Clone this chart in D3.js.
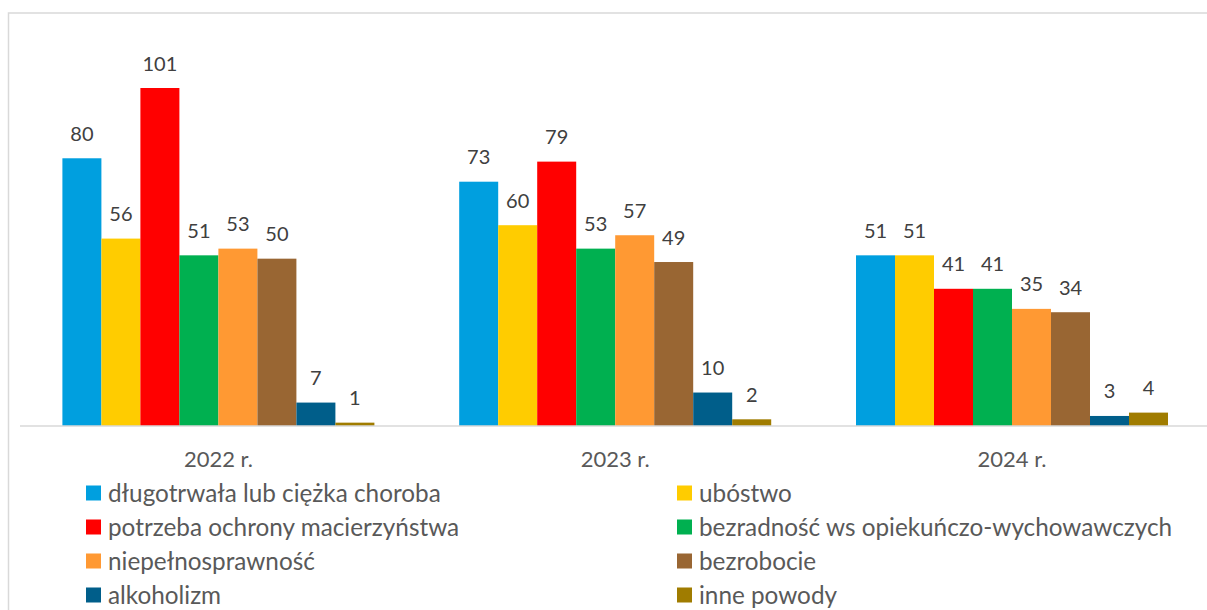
<!DOCTYPE html>
<html><head><meta charset="utf-8">
<script src="https://cdn.jsdelivr.net/npm/d3@7"></script>
<style>body{margin:0;background:#fff}svg{display:block}</style>
</head><body>
<svg id="c" width="1207" height="610"></svg>
<script>
const categories = ["2022 r.", "2023 r.", "2024 r."];
const seriesNames = [
  "długotrwała lub ciężka choroba",
  "ubóstwo",
  "potrzeba ochrony macierzyństwa",
  "bezradność ws opiekuńczo-wychowawczych",
  "niepełnosprawność",
  "bezrobocie",
  "alkoholizm",
  "inne powody"
];
const seriesColors = ["#009FDF", "#FFCC00", "#FF0000", "#00B050", "#FF9933", "#996633", "#005E8A", "#A07C00"];
const values2022 = [80, 56, 101, 51, 53, 50, 7, 1];
const values2023 = [73, 60, 79, 53, 57, 49, 10, 2];
const values2024 = [51, 51, 41, 41, 35, 34, 3, 4];
const valuesByCategory = [values2022, values2023, values2024];

const svg = d3.select("#c");
const font = "Lato, 'Open Sans', sans-serif";

// chart border
svg.append("rect").attr("x", 8.5).attr("y", 13).attr("width", 1210).attr("height", 620)
  .attr("fill", "none").attr("stroke", "#D9D9D9").attr("stroke-width", 1.5);

const baseline = 426;
const x0 = d3.scaleBand().domain(categories).range([20, 1210.4])
  .paddingInner(0.2137).paddingOuter(0.10685);
const x1 = d3.scaleBand().domain(d3.range(seriesNames.length)).range([0, x0.bandwidth()]).padding(0);
const y = d3.scaleLinear().domain([0, 101]).range([baseline, 88]);

const groups = svg.append("g").selectAll("g").data(categories).join("g")
  .attr("transform", d => `translate(${x0(d)},0)`);

groups.selectAll("rect").data((d, i) => valuesByCategory[i].map((v, j) => ({v, j})))
  .join("rect")
  .attr("x", d => x1(d.j)).attr("width", x1.bandwidth())
  .attr("y", d => y(d.v)).attr("height", d => baseline - y(d.v))
  .attr("fill", d => seriesColors[d.j]);

groups.selectAll("text").data((d, i) => valuesByCategory[i].map((v, j) => ({v, j})))
  .join("text")
  .attr("x", d => x1(d.j) + x1.bandwidth() / 2)
  .attr("y", d => y(d.v) - 17.5)
  .attr("text-anchor", "middle")
  .attr("font-family", font).attr("font-size", 20).attr("fill", "#404040")
  .text(d => d.v);

// category axis
const xAxis = svg.append("g").attr("transform", `translate(0,${baseline})`)
  .call(d3.axisBottom(x0).tickSize(0).tickPadding(25));
xAxis.select(".domain").attr("stroke", "#D9D9D9").attr("stroke-width", 1.5)
  .attr("d", "M20,0H1210");
xAxis.selectAll("text").attr("font-family", font).attr("font-size", 22).attr("fill", "#595959");

// legend
const legendCols = [86, 677];
const legend = svg.append("g").selectAll("g").data(seriesNames).join("g")
  .attr("transform", (d, i) => `translate(${legendCols[i % 2]},${493 + Math.floor(i / 2) * 34})`);
legend.append("rect").attr("x", 0).attr("y", -7.5).attr("width", 15).attr("height", 15)
  .attr("fill", (d, i) => seriesColors[i]);
legend.append("text").attr("x", 22).attr("y", 0).attr("dy", "0.35em")
  .attr("font-family", font).attr("font-size", 24.3).attr("fill", "#595959")
  .text(d => d);
</script>
</body></html>
